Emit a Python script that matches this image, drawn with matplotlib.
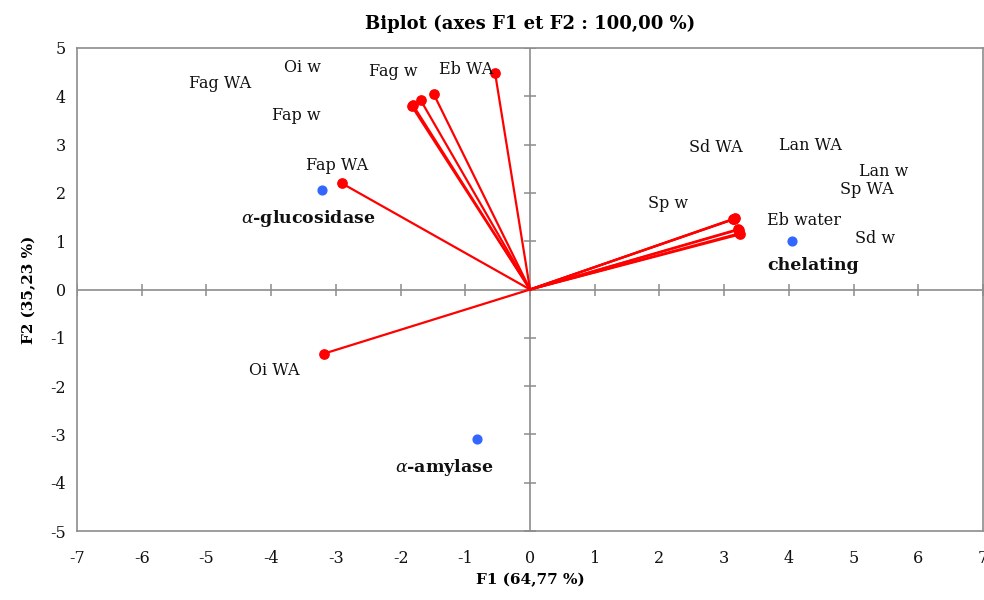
import matplotlib
matplotlib.use("Agg")
import matplotlib.pyplot as plt
import numpy as np

plt.rcParams['font.family'] = ['DejaVu Serif']
plt.rcParams['mathtext.fontset'] = 'dejavuserif'
plt.rcParams['axes.unicode_minus'] = False

# Variables (red vectors)
var_names = ["Fag WA", "Oi w", "Fag w", "Eb WA", "Fap w", "Fap WA", "Oi WA",
             "Sd WA", "Lan WA", "Lan w", "Sp WA", "Sp w", "Eb water", "Sd w"]
var_x = [-1.83, -1.81, -1.69, -0.54, -1.49, -2.91, -3.19,
         3.15, 3.16, 3.22, 3.23, 3.14, 3.24, 3.23]
var_y = [3.80, 3.82, 3.92, 4.48, 4.05, 2.20, -1.33,
         1.46, 1.47, 1.25, 1.24, 1.45, 1.14, 1.16]

# Label positions (as displayed)
lab_x = [-4.79, -3.52, -2.11, -0.98, -3.61, -2.98, -3.95,
         2.87, 4.34, 5.47, 5.21, 2.14, 4.23, 5.33]
lab_y = [4.27, 4.59, 4.52, 4.56, 3.61, 2.57, -1.68,
         2.95, 2.99, 2.45, 2.07, 1.78, 1.43, 1.06]

# Observations (blue points)
obs_names = [r"$\alpha$-glucosidase", "chelating", r"$\alpha$-amylase"]
obs_x = [-3.21, 4.05, -0.82]
obs_y = [2.07, 1.00, -3.09]
obs_lab_x = [-3.43, 4.37, -1.33]
obs_lab_y = [1.47, 0.50, -3.69]

xticks = list(range(-7, 8))
yticks = list(range(-5, 6))

fig = plt.figure(figsize=(9.84, 6.0), dpi=100)
ax = fig.add_axes([0.0783, 0.115, 0.9207, 0.805])
ax.set_xlim(-7, 7)
ax.set_ylim(-5, 5)

gray = '#8c8c8c'
for s in ax.spines.values():
    s.set_color(gray)
    s.set_linewidth(1.2)

ax.axhline(0, color=gray, lw=1.2, zorder=1)
ax.axvline(0, color=gray, lw=1.2, zorder=1)
# tick marks on the zero axes
ax.plot(xticks, [0] * len(xticks), ls='none', marker='|', ms=8, mew=1.1, color=gray, zorder=1)
ax.plot([0] * len(yticks), yticks, ls='none', marker='_', ms=8, mew=1.1, color=gray, zorder=1)

ax.set_xticks(xticks)
ax.set_yticks(yticks)
ax.tick_params(length=0, labelsize=11.5, pad=14, labelcolor='#111111')
ax.tick_params(axis='y', pad=8)

for x, y in zip(var_x, var_y):
    ax.plot([0, x], [0, y], color='#ff0000', lw=1.6, zorder=3)
ax.scatter(var_x, var_y, s=45, color='#ff0000', zorder=4)

for n, x, y in zip(var_names, lab_x, lab_y):
    ax.text(x, y, n, ha='center', va='center', fontsize=11.5, color='#111111', zorder=5)

ax.scatter(obs_x, obs_y, s=40, color='#3366ff', zorder=4)
for n, x, y in zip(obs_names, obs_lab_x, obs_lab_y):
    ax.text(x, y, n, ha='center', va='center', fontsize=12.5, fontweight='bold',
            color='#111111', zorder=5)

ax.set_xlabel("F1 (64,77 %)", fontsize=11, fontweight='bold', labelpad=4)
ax.set_ylabel("F2 (35,23 %)", fontsize=11, fontweight='bold', labelpad=10)
ax.set_title("Biplot (axes F1 et F2 : 100,00 %)", fontsize=13, fontweight='bold', pad=14)

fig.savefig("out.png", dpi=100)
